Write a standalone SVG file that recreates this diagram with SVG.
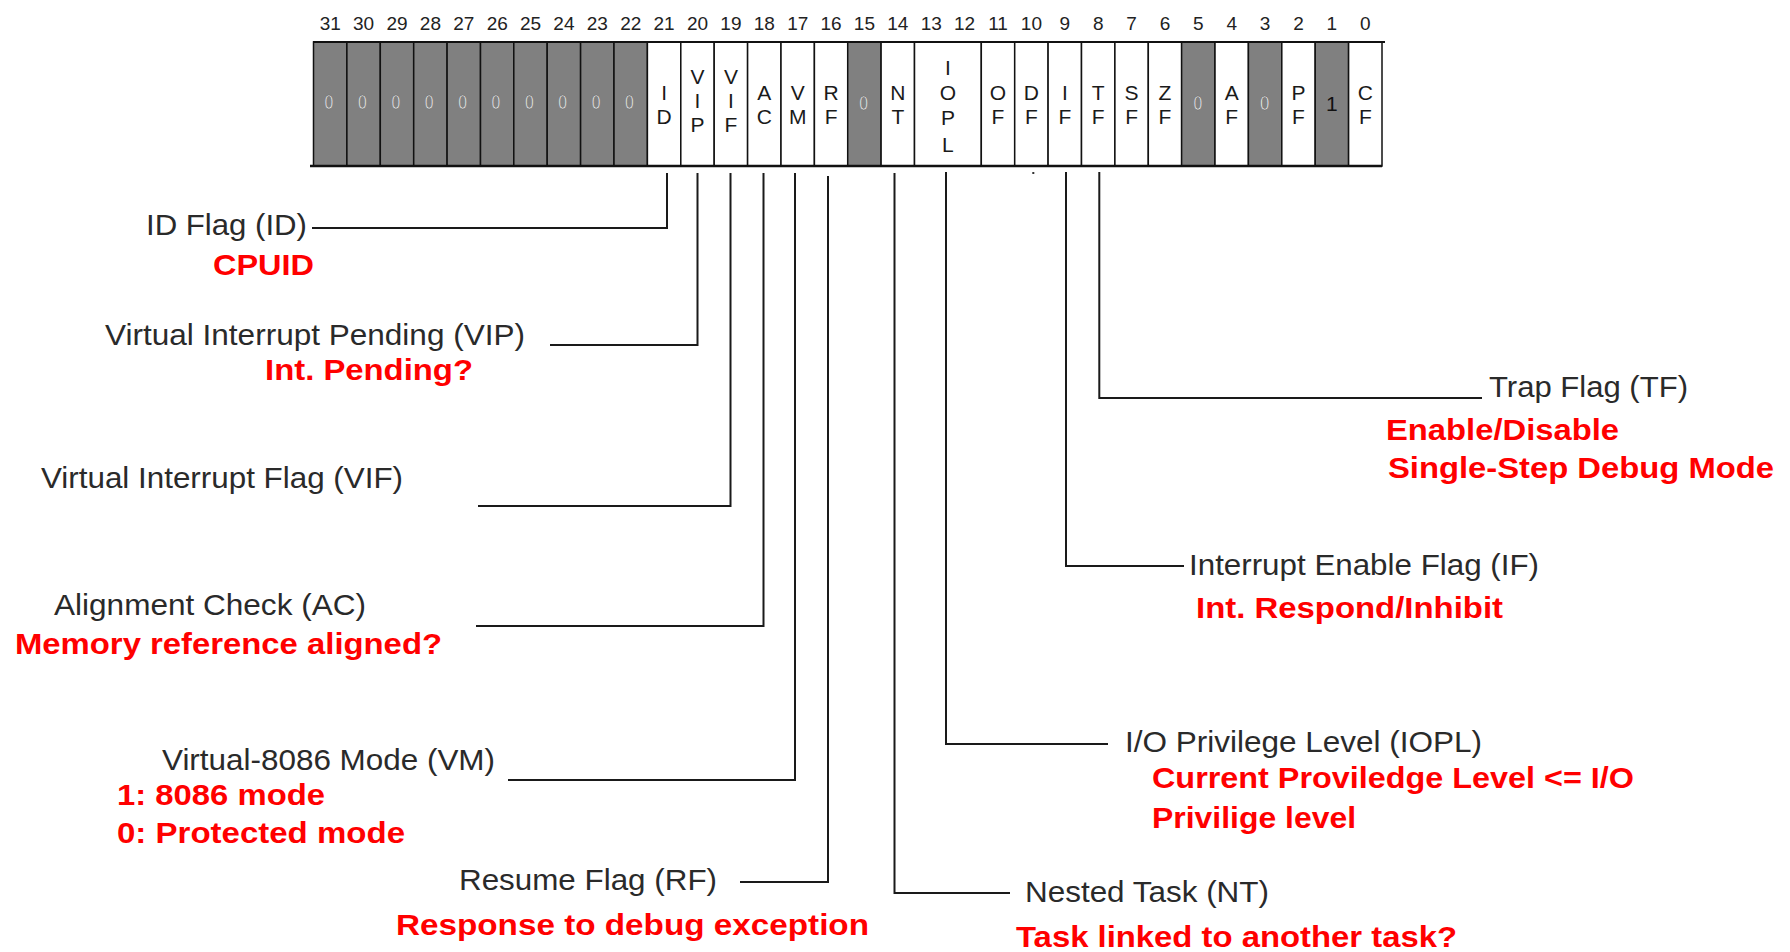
<svg xmlns="http://www.w3.org/2000/svg" width="1790" height="952" viewBox="0 0 1790 952">
<style>
  .bg{fill:#ffffff}
  .cw{fill:#ffffff;stroke:#111;stroke-width:1.5}
  .cg{fill:#808080;stroke:#111;stroke-width:1.5}
  .num{font-family:"Liberation Sans",Arial,sans-serif;font-size:19px;fill:#222;text-anchor:middle}
  .let{font-family:"Liberation Sans",Arial,sans-serif;font-size:21px;fill:#1a1a1a;text-anchor:middle}
  .zero{font-family:"Liberation Sans",Arial,sans-serif;font-size:21px;fill:#f6f6f6;stroke:#555;stroke-width:0.5;text-anchor:middle}
  .one{font-family:"Liberation Sans",Arial,sans-serif;font-size:21px;fill:#111;text-anchor:middle}
  .lbl{font-family:"Liberation Sans",Arial,sans-serif;font-size:30px;fill:#2a2a2a}
  .red{font-family:"Liberation Sans",Arial,sans-serif;font-size:30px;font-weight:bold;fill:#ff0000}
  .con{fill:none;stroke:#1a1a1a;stroke-width:2}
</style>
<rect class="bg" x="0" y="0" width="1790" height="952"/>

<g id="register">
  <g id="bit-numbers">
    <text class="num" x="330.2" y="30">31</text>
    <text class="num" x="363.6" y="30">30</text>
    <text class="num" x="397.0" y="30">29</text>
    <text class="num" x="430.4" y="30">28</text>
    <text class="num" x="463.8" y="30">27</text>
    <text class="num" x="497.2" y="30">26</text>
    <text class="num" x="530.5" y="30">25</text>
    <text class="num" x="563.9" y="30">24</text>
    <text class="num" x="597.3" y="30">23</text>
    <text class="num" x="630.7" y="30">22</text>
    <text class="num" x="664.1" y="30">21</text>
    <text class="num" x="697.5" y="30">20</text>
    <text class="num" x="730.9" y="30">19</text>
    <text class="num" x="764.3" y="30">18</text>
    <text class="num" x="797.7" y="30">17</text>
    <text class="num" x="831.1" y="30">16</text>
    <text class="num" x="864.4" y="30">15</text>
    <text class="num" x="897.8" y="30">14</text>
    <text class="num" x="931.2" y="30">13</text>
    <text class="num" x="964.6" y="30">12</text>
    <text class="num" x="998.0" y="30">11</text>
    <text class="num" x="1031.4" y="30">10</text>
    <text class="num" x="1064.8" y="30">9</text>
    <text class="num" x="1098.2" y="30">8</text>
    <text class="num" x="1131.6" y="30">7</text>
    <text class="num" x="1165.0" y="30">6</text>
    <text class="num" x="1198.3" y="30">5</text>
    <text class="num" x="1231.7" y="30">4</text>
    <text class="num" x="1265.1" y="30">3</text>
    <text class="num" x="1298.5" y="30">2</text>
    <text class="num" x="1331.9" y="30">1</text>
    <text class="num" x="1365.3" y="30">0</text>
  </g>

  <g id="cells">
    <rect class="cg" x="313.5" y="42" width="33.4" height="124"/>
    <rect class="cg" x="346.9" y="42" width="33.4" height="124"/>
    <rect class="cg" x="380.3" y="42" width="33.4" height="124"/>
    <rect class="cg" x="413.7" y="42" width="33.4" height="124"/>
    <rect class="cg" x="447.1" y="42" width="33.4" height="124"/>
    <rect class="cg" x="480.5" y="42" width="33.4" height="124"/>
    <rect class="cg" x="513.8" y="42" width="33.4" height="124"/>
    <rect class="cg" x="547.2" y="42" width="33.4" height="124"/>
    <rect class="cg" x="580.6" y="42" width="33.4" height="124"/>
    <rect class="cg" x="614.0" y="42" width="33.4" height="124"/>
    <rect class="cw" x="647.4" y="42" width="33.4" height="124"/>
    <rect class="cw" x="680.8" y="42" width="33.4" height="124"/>
    <rect class="cw" x="714.2" y="42" width="33.4" height="124"/>
    <rect class="cw" x="747.6" y="42" width="33.4" height="124"/>
    <rect class="cw" x="781.0" y="42" width="33.4" height="124"/>
    <rect class="cw" x="814.4" y="42" width="33.4" height="124"/>
    <rect class="cg" x="847.7" y="42" width="33.4" height="124"/>
    <rect class="cw" x="881.1" y="42" width="33.4" height="124"/>
    <rect class="cw" x="914.5" y="42" width="66.8" height="124"/>
    <rect class="cw" x="981.3" y="42" width="33.4" height="124"/>
    <rect class="cw" x="1014.7" y="42" width="33.4" height="124"/>
    <rect class="cw" x="1048.1" y="42" width="33.4" height="124"/>
    <rect class="cw" x="1081.5" y="42" width="33.4" height="124"/>
    <rect class="cw" x="1114.9" y="42" width="33.4" height="124"/>
    <rect class="cw" x="1148.3" y="42" width="33.4" height="124"/>
    <rect class="cg" x="1181.6" y="42" width="33.4" height="124"/>
    <rect class="cw" x="1215.0" y="42" width="33.4" height="124"/>
    <rect class="cg" x="1248.4" y="42" width="33.4" height="124"/>
    <rect class="cw" x="1281.8" y="42" width="33.4" height="124"/>
    <rect class="cg" x="1315.2" y="42" width="33.4" height="124"/>
    <rect class="cw" x="1348.6" y="42" width="33.4" height="124"/>
    <line x1="313" y1="42" x2="1385" y2="42" stroke="#111" stroke-width="2"/>
    <line x1="310" y1="166" x2="1382" y2="166" stroke="#111" stroke-width="2.5"/>
  </g>

  <g id="reserved-values">
    <text class="zero" transform="translate(329,109) scale(0.75,1)">0</text>
    <text class="zero" transform="translate(362.4,109) scale(0.75,1)">0</text>
    <text class="zero" transform="translate(395.8,109) scale(0.75,1)">0</text>
    <text class="zero" transform="translate(429.2,109) scale(0.75,1)">0</text>
    <text class="zero" transform="translate(462.6,109) scale(0.75,1)">0</text>
    <text class="zero" transform="translate(496,109) scale(0.75,1)">0</text>
    <text class="zero" transform="translate(529.3,109) scale(0.75,1)">0</text>
    <text class="zero" transform="translate(562.7,109) scale(0.75,1)">0</text>
    <text class="zero" transform="translate(596.1,109) scale(0.75,1)">0</text>
    <text class="zero" transform="translate(629.5,109) scale(0.75,1)">0</text>
    <text class="zero" transform="translate(863.6,110) scale(0.75,1)">0</text>
    <text class="zero" transform="translate(1197.8,110) scale(0.75,1)">0</text>
    <text class="zero" transform="translate(1264.6,110) scale(0.8,1)">0</text>
    <text class="one" x="1331.9" y="111">1</text>
  </g>

  <g id="flag-letters">
    <text class="let" x="664.1" y="100">I</text><text class="let" x="664.1" y="124">D</text>
    <text class="let" x="697.5" y="84">V</text><text class="let" x="697.5" y="108">I</text><text class="let" x="697.5" y="132">P</text>
    <text class="let" x="730.9" y="84">V</text><text class="let" x="730.9" y="108">I</text><text class="let" x="730.9" y="132">F</text>
    <text class="let" x="764.3" y="100">A</text><text class="let" x="764.3" y="124">C</text>
    <text class="let" x="797.7" y="100">V</text><text class="let" x="797.7" y="124">M</text>
    <text class="let" x="831.1" y="100">R</text><text class="let" x="831.1" y="124">F</text>
    <text class="let" x="897.8" y="100">N</text><text class="let" x="897.8" y="124">T</text>
    <text class="let" x="947.9" y="75">I</text><text class="let" x="947.9" y="100">O</text><text class="let" x="947.9" y="125">P</text><text class="let" x="947.9" y="152">L</text>
    <text class="let" x="998.0" y="100">O</text><text class="let" x="998.0" y="124">F</text>
    <text class="let" x="1031.4" y="100">D</text><text class="let" x="1031.4" y="124">F</text>
    <text class="let" x="1064.8" y="100">I</text><text class="let" x="1064.8" y="124">F</text>
    <text class="let" x="1098.2" y="100">T</text><text class="let" x="1098.2" y="124">F</text>
    <text class="let" x="1131.6" y="100">S</text><text class="let" x="1131.6" y="124">F</text>
    <text class="let" x="1165.0" y="100">Z</text><text class="let" x="1165.0" y="124">F</text>
    <text class="let" x="1231.7" y="100">A</text><text class="let" x="1231.7" y="124">F</text>
    <text class="let" x="1298.5" y="100">P</text><text class="let" x="1298.5" y="124">F</text>
    <text class="let" x="1365.3" y="100">C</text><text class="let" x="1365.3" y="124">F</text>
  </g>
  <rect x="1032.3" y="172" width="2" height="2" fill="#333"/>
</g>

<g id="connectors">
  <path class="con" d="M667 173 V228 H312"/>
  <path class="con" d="M697.5 173 V345 H550"/>
  <path class="con" d="M730.5 173 V506 H478"/>
  <path class="con" d="M763.5 173 V626 H476"/>
  <path class="con" d="M795 173 V780 H508"/>
  <path class="con" d="M828 176 V882 H740"/>
  <path class="con" d="M894.5 173 V893 H1010"/>
  <path class="con" d="M946 172 V744 H1108"/>
  <path class="con" d="M1066 172 V566 H1184"/>
  <path class="con" d="M1099.3 172 V398 H1482"/>
</g>

<g id="node-id">
  <text class="lbl" x="146" y="235" textLength="161" lengthAdjust="spacingAndGlyphs">ID Flag (ID)</text>
  <text class="red" x="213" y="275" textLength="101" lengthAdjust="spacingAndGlyphs">CPUID</text>
</g>
<g id="node-vip">
  <text class="lbl" x="105" y="345" textLength="420" lengthAdjust="spacingAndGlyphs">Virtual Interrupt Pending (VIP)</text>
  <text class="red" x="265" y="380" textLength="208" lengthAdjust="spacingAndGlyphs">Int. Pending?</text>
</g>
<g id="node-vif">
  <text class="lbl" x="41" y="488" textLength="362" lengthAdjust="spacingAndGlyphs">Virtual Interrupt Flag (VIF)</text>
</g>
<g id="node-ac">
  <text class="lbl" x="54" y="615" textLength="312" lengthAdjust="spacingAndGlyphs">Alignment Check (AC)</text>
  <text class="red" x="15" y="654" textLength="427" lengthAdjust="spacingAndGlyphs">Memory reference aligned?</text>
</g>
<g id="node-vm">
  <text class="lbl" x="162" y="770" textLength="333" lengthAdjust="spacingAndGlyphs">Virtual-8086 Mode (VM)</text>
  <text class="red" x="117" y="805" textLength="208" lengthAdjust="spacingAndGlyphs">1: 8086 mode</text>
  <text class="red" x="117" y="843" textLength="288" lengthAdjust="spacingAndGlyphs">0: Protected mode</text>
</g>
<g id="node-rf">
  <text class="lbl" x="459" y="890" textLength="258" lengthAdjust="spacingAndGlyphs">Resume Flag (RF)</text>
  <text class="red" x="396" y="935" textLength="473" lengthAdjust="spacingAndGlyphs">Response to debug exception</text>
</g>
<g id="node-nt">
  <text class="lbl" x="1025" y="902" textLength="244" lengthAdjust="spacingAndGlyphs">Nested Task (NT)</text>
  <text class="red" x="1016" y="947" textLength="441" lengthAdjust="spacingAndGlyphs">Task linked to another task?</text>
</g>
<g id="node-iopl">
  <text class="lbl" x="1125" y="752" textLength="357" lengthAdjust="spacingAndGlyphs">I/O Privilege Level (IOPL)</text>
  <text class="red" x="1152" y="788" textLength="482" lengthAdjust="spacingAndGlyphs">Current Proviledge Level &lt;= I/O</text>
  <text class="red" x="1152" y="828" textLength="204" lengthAdjust="spacingAndGlyphs">Privilige level</text>
</g>
<g id="node-if">
  <text class="lbl" x="1189" y="575" textLength="350" lengthAdjust="spacingAndGlyphs">Interrupt Enable Flag (IF)</text>
  <text class="red" x="1196" y="618" textLength="307" lengthAdjust="spacingAndGlyphs">Int. Respond/Inhibit</text>
</g>
<g id="node-tf">
  <text class="lbl" x="1489" y="397" textLength="199" lengthAdjust="spacingAndGlyphs">Trap Flag (TF)</text>
  <text class="red" x="1386" y="440" textLength="233" lengthAdjust="spacingAndGlyphs">Enable/Disable</text>
  <text class="red" x="1388" y="478" textLength="386" lengthAdjust="spacingAndGlyphs">Single-Step Debug Mode</text>
</g>
</svg>
